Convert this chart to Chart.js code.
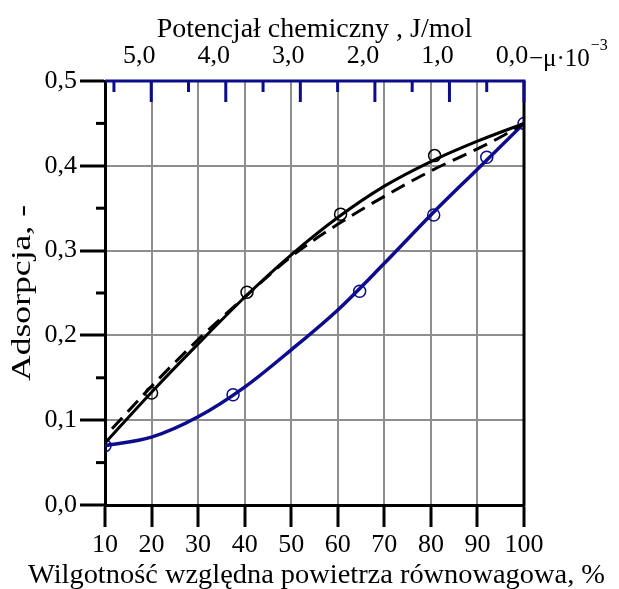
<!DOCTYPE html>
<html>
<head>
<meta charset="utf-8">
<script src="https://cdn.jsdelivr.net/npm/chart.js@4/dist/chart.umd.min.js"></script>
<style>
  html, body { margin: 0; padding: 0; background: #fff; }
</style>
</head>
<body>
<canvas id="wykres" width="619" height="589"></canvas>
<script>
// Dane
const krzywaX = [10, 20, 30, 40, 50, 60, 70, 80, 90, 100];
const krzywaCzarnaY = [0.073, 0.133, 0.19, 0.245, 0.295, 0.339, 0.376, 0.405, 0.429, 0.45];
const krzywaNiebieskaY = [0.07, 0.08, 0.104, 0.139, 0.183, 0.23, 0.285, 0.342, 0.396, 0.45];

const przerywanaX = [11.5, 20, 30, 40, 50, 60, 70, 80, 90, 95, 100];
const przerywanaY = [0.09, 0.14, 0.195, 0.245, 0.293, 0.331, 0.364, 0.394, 0.42, 0.434, 0.45];

const punktyCzarneX = [20, 40.5, 60.6, 80.8];
const punktyCzarneY = [0.132, 0.251, 0.343, 0.412];
const punktyNiebieskieX = [10, 37.5, 64.7, 80.6, 92, 100];
const punktyNiebieskieY = [0.07, 0.13, 0.252, 0.342, 0.41, 0.45];

// Górna oś: potencjał chemiczny
const potencjalTicks = [0, 1, 2, 3, 4, 5];
const potencjalMinor = [0.5, 1.5, 2.5, 3.5, 4.5, 5.5];
const adsorpcjaMinor = [0.05, 0.15, 0.25, 0.35, 0.45];

const tytulDol = "Wilgotność względna powietrza równowagowa, %";
const tytulGora = "Potencjał chemiczny , J/mol";
const tytulLewy = "Adsorpcja, -";

const NIEBIESKI = "#0c0c8c";
const SZARY = "#8e8e8e";
const FONT = "'Liberation Serif', 'Times New Roman', serif";

function punkty(xs, ys) {
  return xs.map((x, i) => ({ x: x, y: ys[i] }));
}

function przecinek(v) {
  return Number(v).toFixed(1).replace(".", ",");
}

// tekst rozciągnięty do zadanej szerokości (jak w oryginale)
function tekstNaSzerokosc(ctx, tekst, szerokosc) {
  const w = ctx.measureText(tekst).width;
  ctx.save();
  ctx.scale(szerokosc / w, 1);
  ctx.textAlign = "center";
  ctx.fillText(tekst, 0, 0);
  ctx.restore();
}

// Rysowanie osi górnej, prawej krawędzi, podziałek pomocniczych i tytułów
const osiePlugin = {
  id: "osie",
  afterDraw(chart) {
    const ctx = chart.ctx;
    const area = chart.chartArea;
    const x2 = chart.scales.x2;
    const y = chart.scales.y;
    ctx.save();
    ctx.lineCap = "butt";

    // prawa krawędź
    ctx.strokeStyle = "#000";
    ctx.lineWidth = 3;
    ctx.beginPath();
    ctx.moveTo(area.right, area.top);
    ctx.lineTo(area.right, area.bottom + 1.5);
    ctx.stroke();

    // podziałki pomocnicze lewej osi
    adsorpcjaMinor.forEach((v) => {
      const py = y.getPixelForValue(v);
      ctx.beginPath();
      ctx.moveTo(area.left - 9, py);
      ctx.lineTo(area.left, py);
      ctx.stroke();
    });

    // górna oś (niebieska)
    ctx.strokeStyle = NIEBIESKI;
    ctx.beginPath();
    ctx.moveTo(area.left, area.top);
    ctx.lineTo(area.right + 1.5, area.top);
    ctx.stroke();
    potencjalTicks.forEach((v) => {
      const px = x2.getPixelForValue(v);
      ctx.beginPath();
      ctx.moveTo(px, area.top);
      ctx.lineTo(px, area.top + 21);
      ctx.stroke();
    });
    potencjalMinor.forEach((v) => {
      const px = x2.getPixelForValue(v);
      ctx.beginPath();
      ctx.moveTo(px, area.top);
      ctx.lineTo(px, area.top + 11);
      ctx.stroke();
    });

    // dopisek przy 0,0
    const px0 = x2.getPixelForValue(0);
    ctx.fillStyle = "#000";
    ctx.textBaseline = "alphabetic";
    ctx.textAlign = "left";
    ctx.font = "25px " + FONT;
    const tekst = "\u2212\u03bc\u00b710";
    ctx.fillText(tekst, px0 + 5, 66);
    const w = ctx.measureText(tekst).width;
    ctx.font = "16px " + FONT;
    ctx.fillText("\u22123", px0 + 5 + w + 1, 50);

    // tytuły osi
    const srodek = (area.left + area.right) / 2;
    ctx.textAlign = "center";
    ctx.font = "28px " + FONT;
    ctx.fillText(tytulGora, srodek, 37);

    ctx.save();
    ctx.translate(srodek + 2, 583);
    tekstNaSzerokosc(ctx, tytulDol, 577);
    ctx.restore();

    ctx.font = "27px " + FONT;
    ctx.translate(30, (area.top + area.bottom) / 2);
    ctx.rotate(-Math.PI / 2);
    tekstNaSzerokosc(ctx, tytulLewy, 176);
    ctx.restore();
  },
};

const ctx = document.getElementById("wykres").getContext("2d");
new Chart(ctx, {
  type: "scatter",
  data: {
    datasets: [
      {
        label: "krzywa czarna",
        data: punkty(krzywaX, krzywaCzarnaY),
        showLine: true,
        borderColor: "#000",
        borderWidth: 3,
        pointRadius: 0,
        cubicInterpolationMode: "monotone",
      },
      {
        label: "krzywa przerywana",
        data: punkty(przerywanaX, przerywanaY),
        showLine: true,
        borderColor: "#000",
        borderWidth: 3,
        borderDash: [15, 8],
        pointRadius: 0,
        cubicInterpolationMode: "monotone",
      },
      {
        label: "krzywa niebieska",
        data: punkty(krzywaX, krzywaNiebieskaY),
        showLine: true,
        borderColor: NIEBIESKI,
        borderWidth: 3.5,
        pointRadius: 0,
        cubicInterpolationMode: "monotone",
      },
      {
        label: "punkty czarne",
        data: punkty(punktyCzarneX, punktyCzarneY),
        showLine: false,
        pointRadius: 6,
        pointBorderWidth: 1.5,
        pointBackgroundColor: "rgba(0,0,0,0)",
        pointBorderColor: "#000",
      },
      {
        label: "punkty niebieskie",
        data: punkty(punktyNiebieskieX, punktyNiebieskieY),
        showLine: false,
        pointRadius: 6,
        pointBorderWidth: 1.5,
        pointBackgroundColor: "rgba(0,0,0,0)",
        pointBorderColor: NIEBIESKI,
      },
    ],
  },
  options: {
    responsive: false,
    animation: false,
    layout: { padding: { right: 95, left: 0, top: 0, bottom: 0 } },
    plugins: { legend: { display: false }, tooltip: { enabled: false } },
    scales: {
      x: {
        type: "linear",
        position: "bottom",
        min: 10,
        max: 100,
        afterFit: (s) => { s.height = 84; },
        ticks: {
          stepSize: 10,
          color: "#000",
          padding: 3,
          font: { family: FONT, size: 26 },
        },
        grid: {
          color: SZARY,
          lineWidth: 2,
          tickLength: 22,
          tickColor: "#000",
          tickWidth: 3,
        },
        border: { color: "#000", width: 3 },
      },
      x2: {
        type: "linear",
        position: "top",
        reverse: true,
        min: 0,
        max: 5.62,
        afterFit: (s) => { s.height = 81; },
        afterBuildTicks: (s) => {
          s.ticks = potencjalTicks.map((v) => ({ value: v }));
        },
        ticks: {
          color: "#000",
          padding: 9,
          labelOffset: -12,
          maxRotation: 0,
          autoSkip: false,
          font: { family: FONT, size: 26 },
          callback: (v) => przecinek(v),
        },
        grid: { display: false, drawTicks: false },
        border: { display: false },
      },
      y: {
        type: "linear",
        position: "left",
        min: 0,
        max: 0.5,
        afterFit: (s) => { s.width = 105; },
        ticks: {
          stepSize: 0.1,
          color: "#000",
          padding: 3,
          font: { family: FONT, size: 26 },
          callback: (v) => przecinek(v),
        },
        grid: {
          color: SZARY,
          lineWidth: 2,
          tickLength: 25,
          tickColor: "#000",
          tickWidth: 3,
        },
        border: { color: "#000", width: 3 },
      },
    },
  },
  plugins: [osiePlugin],
});
</script>
</body>
</html>
